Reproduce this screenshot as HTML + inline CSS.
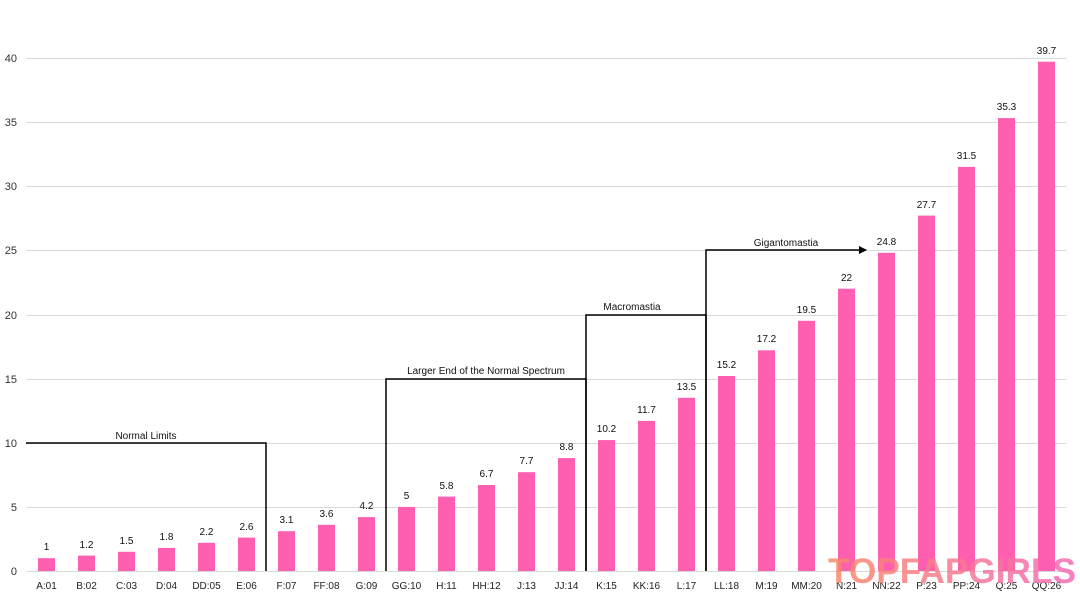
<!DOCTYPE html><html><head><style>body{margin:0;background:#fff}svg{display:block}</style></head><body>
<svg width="1080" height="597" xmlns="http://www.w3.org/2000/svg" font-family="Liberation Sans, sans-serif">
<defs><linearGradient id="g" x1="0" x2="1"><stop offset="0" stop-color="#f98a6a"/><stop offset="1" stop-color="#f56bb8"/></linearGradient>
<marker id="ar" markerWidth="8" markerHeight="8" refX="7" refY="4" orient="auto" markerUnits="userSpaceOnUse"><path d="M0,0 L8,4 L0,8 z" fill="#000"/></marker></defs>
<g stroke="#d9d9d9" stroke-width="1">
<line x1="26" x2="1066" y1="571.5" y2="571.5"/><line x1="26" x2="1066" y1="507.5" y2="507.5"/><line x1="26" x2="1066" y1="443.5" y2="443.5"/><line x1="26" x2="1066" y1="379.5" y2="379.5"/><line x1="26" x2="1066" y1="315.5" y2="315.5"/><line x1="26" x2="1066" y1="250.5" y2="250.5"/><line x1="26" x2="1066" y1="186.5" y2="186.5"/><line x1="26" x2="1066" y1="122.5" y2="122.5"/><line x1="26" x2="1066" y1="58.5" y2="58.5"/></g>
<g font-size="11" fill="#333" text-anchor="end">
<text x="17" y="575">0</text><text x="17" y="511">5</text><text x="17" y="447">10</text><text x="17" y="383">15</text><text x="17" y="319">20</text><text x="17" y="254">25</text><text x="17" y="190">30</text><text x="17" y="126">35</text><text x="17" y="62">40</text></g>
<g fill="#ff5fb0">
<rect x="38" y="558.2" width="17" height="12.8"/>
<rect x="78" y="555.6" width="17" height="15.4"/>
<rect x="118" y="551.8" width="17" height="19.2"/>
<rect x="158" y="547.9" width="17" height="23.1"/>
<rect x="198" y="542.8" width="17" height="28.2"/>
<rect x="238" y="537.6" width="17" height="33.4"/>
<rect x="278" y="531.2" width="17" height="39.8"/>
<rect x="318" y="524.8" width="17" height="46.2"/>
<rect x="358" y="517.1" width="17" height="53.9"/>
<rect x="398" y="506.9" width="17" height="64.1"/>
<rect x="438" y="496.6" width="17" height="74.4"/>
<rect x="478" y="485.0" width="17" height="86.0"/>
<rect x="518" y="472.2" width="17" height="98.8"/>
<rect x="558" y="458.1" width="17" height="112.9"/>
<rect x="598" y="440.1" width="17" height="130.9"/>
<rect x="638" y="420.9" width="17" height="150.1"/>
<rect x="678" y="397.8" width="17" height="173.2"/>
<rect x="718" y="376.0" width="17" height="195.0"/>
<rect x="758" y="350.3" width="17" height="220.7"/>
<rect x="798" y="320.8" width="17" height="250.2"/>
<rect x="838" y="288.7" width="17" height="282.3"/>
<rect x="878" y="252.8" width="17" height="318.2"/>
<rect x="918" y="215.6" width="17" height="355.4"/>
<rect x="958" y="166.9" width="17" height="404.1"/>
<rect x="998" y="118.1" width="17" height="452.9"/>
<rect x="1038" y="61.7" width="17" height="509.3"/>
</g>
<g font-size="10" fill="#111" text-anchor="middle">
<text x="46.5" y="550">1</text><text x="86.5" y="548">1.2</text><text x="126.5" y="544">1.5</text><text x="166.5" y="540">1.8</text><text x="206.5" y="535">2.2</text><text x="246.5" y="530">2.6</text><text x="286.5" y="523">3.1</text><text x="326.5" y="517">3.6</text><text x="366.5" y="509">4.2</text><text x="406.5" y="499">5</text><text x="446.5" y="489">5.8</text><text x="486.5" y="477">6.7</text><text x="526.5" y="464">7.7</text><text x="566.5" y="450">8.8</text><text x="606.5" y="432">10.2</text><text x="646.5" y="413">11.7</text><text x="686.5" y="390">13.5</text><text x="726.5" y="368">15.2</text><text x="766.5" y="342">17.2</text><text x="806.5" y="313">19.5</text><text x="846.5" y="281">22</text><text x="886.5" y="245">24.8</text><text x="926.5" y="208">27.7</text><text x="966.5" y="159">31.5</text><text x="1006.5" y="110">35.3</text><text x="1046.5" y="54">39.7</text>
</g>
<g font-size="10" fill="#222" text-anchor="middle">
<text x="46.5" y="589">A:01</text><text x="86.5" y="589">B:02</text><text x="126.5" y="589">C:03</text><text x="166.5" y="589">D:04</text><text x="206.5" y="589">DD:05</text><text x="246.5" y="589">E:06</text><text x="286.5" y="589">F:07</text><text x="326.5" y="589">FF:08</text><text x="366.5" y="589">G:09</text><text x="406.5" y="589">GG:10</text><text x="446.5" y="589">H:11</text><text x="486.5" y="589">HH:12</text><text x="526.5" y="589">J:13</text><text x="566.5" y="589">JJ:14</text><text x="606.5" y="589">K:15</text><text x="646.5" y="589">KK:16</text><text x="686.5" y="589">L:17</text><text x="726.5" y="589">LL:18</text><text x="766.5" y="589">M:19</text><text x="806.5" y="589">MM:20</text><text x="846.5" y="589">N:21</text><text x="886.5" y="589">NN:22</text><text x="926.5" y="589">P:23</text><text x="966.5" y="589">PP:24</text><text x="1006.5" y="589">Q:25</text><text x="1046.5" y="589">QQ:26</text>
</g>
<g stroke="#000" stroke-width="1.5" fill="none">
<polyline points="26,443 266,443 266,571"/>
<polyline points="386,571 386,379 586,379 586,571"/>
<polyline points="586,571 586,315 706,315 706,571"/>
<polyline points="706,571 706,250 866,250" marker-end="url(#ar)"/></g>
<g font-size="10" fill="#111" text-anchor="middle">
<text x="146" y="439">Normal Limits</text><text x="486" y="374">Larger End of the Normal Spectrum</text><text x="632" y="310">Macromastia</text><text x="786" y="246">Gigantomastia</text></g>
<text x="828" y="583" font-size="35" font-weight="bold" fill="url(#g)" opacity="0.85" textLength="248" lengthAdjust="spacingAndGlyphs">TOPFAPGIRLS</text>
</svg></body></html>
